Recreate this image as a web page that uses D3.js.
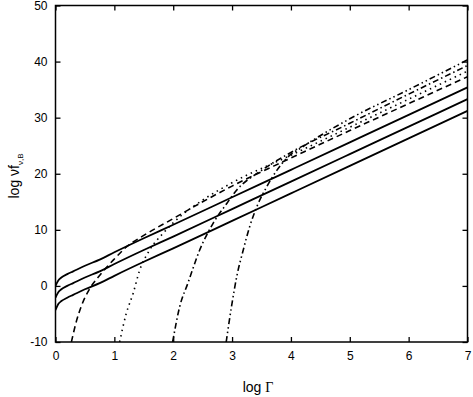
<!DOCTYPE html>
<html>
<head>
<meta charset="utf-8">
<script src="https://cdn.jsdelivr.net/npm/d3@7"></script>
<style>
  body { margin: 0; background: #fff; }
  svg { display: block; font-family: "Liberation Sans", Arial, sans-serif; }
</style>
</head>
<body>
<svg class="chart" width="473" height="397"></svg>
<script>
// values
const xTicks = [0, 1, 2, 3, 4, 5, 6, 7]
const yTicks = [-10, 0, 10, 20, 30, 40, 50]

// the three solid curves share the same x points
const solidX = [0, 0.05, 0.1, 0.2, 0.3, 0.5, 0.75, 1, 1.5, 2, 3, 4, 5, 6, 7]
const solidTop = [0, 1.0, 1.5, 2.1, 2.6, 3.6, 4.7, 6.0, 8.5, 10.9, 15.8, 20.7, 25.6, 30.5, 35.4]
const solidMid = [-2.1, -1.1, -0.6, 0.0, 0.5, 1.5, 2.6, 3.9, 6.4, 8.8, 13.7, 18.6, 23.5, 28.4, 33.3]
const solidLow = [-4.3, -3.2, -2.7, -2.1, -1.6, -0.6, 0.5, 1.8, 4.3, 6.7, 11.6, 16.5, 21.4, 26.3, 31.2]

// cut-off curves
const dashedX = [0.27, 0.35, 0.45, 0.57, 0.76, 1.0, 1.2, 1.5, 2, 2.5, 3, 4, 5, 6, 7]
const dashedY = [-10, -6.5, -3.3, -0.7, 2.0, 4.8, 6.9, 9.0, 12.0, 15.0, 17.8, 22.8, 27.7, 32.5, 37.3]
const dottedX = [1.09, 1.2, 1.32, 1.43, 1.6, 1.83, 2.11, 2.5, 3, 4, 5, 6, 7]
const dottedY = [-10, -5.0, -1.3, 2.8, 6.4, 9.4, 12.3, 15.3, 18.4, 23.3, 28.3, 33.3, 38.3]
const dashDotX = [1.99, 2.11, 2.25, 2.45, 2.68, 2.91, 3.08, 3.5, 4, 5, 6, 7]
const dashDotY = [-10, -3.7, 0.5, 6.4, 11.2, 14.7, 17.1, 20.6, 23.8, 29.0, 34.2, 39.3]
const dashDotDotX = [2.9, 2.99, 3.08, 3.19, 3.3, 3.42, 3.59, 3.76, 3.93, 4.2, 5, 6, 7]
const dashDotDotY = [-10, -3.7, 1.7, 6.4, 10.6, 14.1, 17.7, 20.6, 22.8, 24.8, 29.8, 35.0, 40.3]

const svg = d3.select("svg.chart")

const plotLeft = 55.5
const plotRight = 467.5
const plotTop = 5.5
const plotBottom = 342

const scaleX = d3.scaleLinear()
    .domain([0, 7])
    .range([plotLeft, plotRight])
const scaleY = d3.scaleLinear()
    .domain([-10, 50])
    .range([plotBottom, plotTop])

svg.append("defs")
    .append("clipPath")
    .attr("id", "plot")
    .append("rect")
    .attr("x", plotLeft)
    .attr("y", plotTop)
    .attr("width", plotRight - plotLeft)
    .attr("height", plotBottom - plotTop)

// axes with inward ticks on all four sides
const minus = d => d < 0 ? "-" + Math.abs(d) : String(d)
const axisBottom = d3.axisBottom(scaleX).tickValues(xTicks).tickSizeInner(-5).tickSizeOuter(0).tickPadding(9).tickFormat(minus)
const axisTop = d3.axisTop(scaleX).tickValues(xTicks).tickSizeInner(-5).tickSizeOuter(0).tickFormat(() => "")
const axisLeft = d3.axisLeft(scaleY).tickValues(yTicks).tickSizeInner(-5).tickSizeOuter(0).tickPadding(8).tickFormat(minus)
const axisRight = d3.axisRight(scaleY).tickValues(yTicks).tickSizeInner(-5).tickSizeOuter(0).tickFormat(() => "")

svg.append("g").attr("transform", `translate(0, ${plotBottom})`).call(axisBottom)
svg.append("g").attr("class", "no-labels").attr("transform", `translate(0, ${plotTop})`).call(axisTop)
svg.append("g").attr("transform", `translate(${plotLeft}, 0)`).call(axisLeft)
svg.append("g").attr("class", "no-labels").attr("transform", `translate(${plotRight}, 0)`).call(axisRight)

svg.selectAll(".no-labels .tick text").remove()
svg.selectAll(".domain").remove()
svg.selectAll(".tick line").attr("stroke", "#000").attr("stroke-width", 1.3)
svg.selectAll(".tick text")
    .attr("fill", "#000")
    .style("font-size", "12px")
    .style("font-family", "'Liberation Sans', Arial, sans-serif")

// frame
svg.append("rect")
    .attr("x", plotLeft)
    .attr("y", plotTop)
    .attr("width", plotRight - plotLeft)
    .attr("height", plotBottom - plotTop)
    .attr("fill", "none")
    .attr("stroke", "#000")
    .attr("stroke-width", 1.5)

const line = d3.line()
    .x(d => scaleX(d[0]))
    .y(d => scaleY(d[1]))
    .curve(d3.curveMonotoneX)

const curves = [
    {x: solidX, y: solidTop, dash: null, w: 1.8},
    {x: solidX, y: solidMid, dash: null, w: 1.8},
    {x: solidX, y: solidLow, dash: null, w: 1.8},
    {x: dashedX, y: dashedY, dash: "6,4", w: 1.6},
    {x: dottedX, y: dottedY, dash: "1.5,4", w: 1.6},
    {x: dashDotX, y: dashDotY, dash: "6,3,1.5,3", w: 1.6},
    {x: dashDotDotX, y: dashDotDotY, dash: "6,3,1.5,3,1.5,3", w: 1.6}
]

svg.append("g")
    .attr("clip-path", "url(#plot)")
    .selectAll("path")
    .data(curves)
    .enter()
    .append("path")
    .attr("d", c => line(c.x.map((v, i) => [v, c.y[i]])))
    .attr("fill", "none")
    .attr("stroke", "#000")
    .attr("stroke-width", c => c.w)
    .attr("stroke-dasharray", c => c.dash)

// axis titles
const xTitle = svg.append("text")
    .attr("x", 258)
    .attr("y", 392)
    .attr("text-anchor", "middle")
    .style("font-size", "14px")
xTitle.append("tspan").text("log ")
xTitle.append("tspan").style("font-family", "'Liberation Serif', 'Times New Roman', serif").text("Γ")

const yTitle = svg.append("text")
    .attr("transform", "translate(19, 176) rotate(-90)")
    .attr("text-anchor", "middle")
    .style("font-size", "14px")
yTitle.append("tspan").text("log νf")
yTitle.append("tspan")
    .attr("dy", 4)
    .style("font-size", "8px")
    .text("ν,B")
</script>
</body>
</html>
